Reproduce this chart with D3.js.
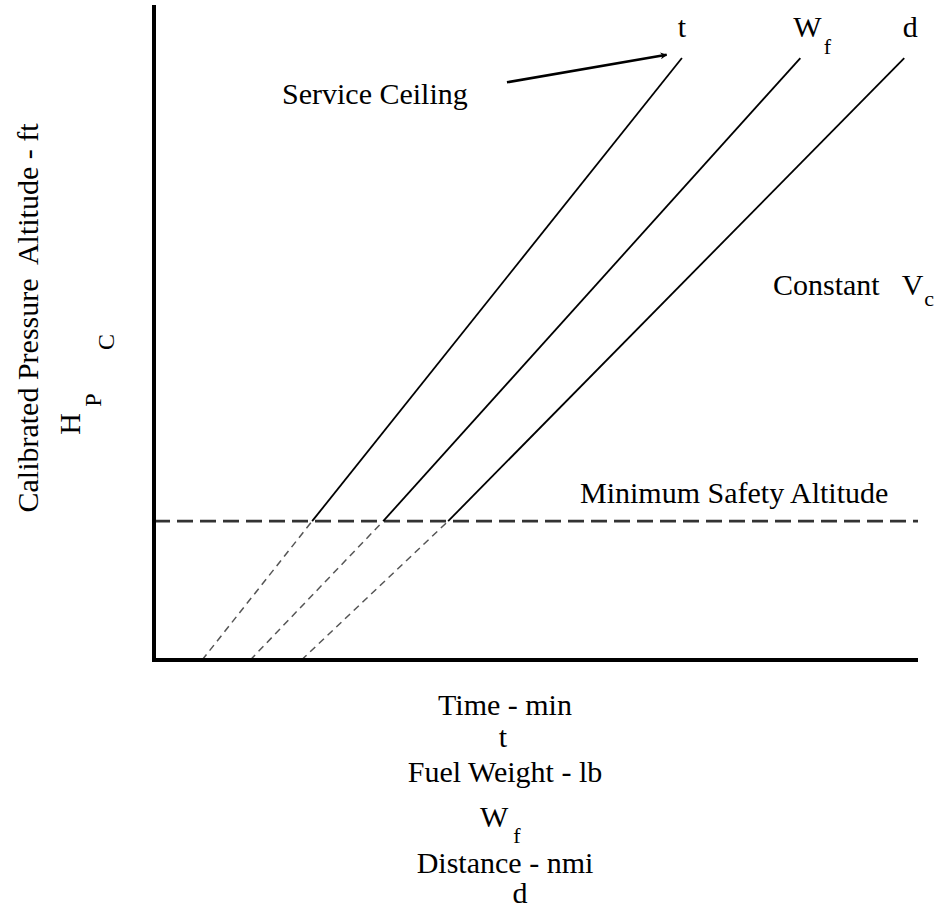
<!DOCTYPE html>
<html>
<head>
<meta charset="utf-8">
<script src="https://cdn.jsdelivr.net/npm/d3@7"></script>
<style>
  html, body { margin: 0; padding: 0; background: #fff; }
  svg { display: block; }
</style>
</head>
<body>
<svg id="chart" width="952" height="911" font-family="'Liberation Serif', 'Times New Roman', serif"></svg>
<script>
// ---- data (abstract chart units, 0..100 on both axes) ----
const seriesNames = ["t", "Wf", "d"];
const bottomX = [6.3, 12.6, 19.3];      // where the extrapolated (dashed) part meets the x-axis
const safetyX = [20.7, 30.0, 38.5];     // crossing of the minimum safety altitude
const ceilingX = [69.1, 84.6, 98.2];    // at service ceiling
const minSafetyAltitude = 21.2;
const serviceCeiling = 91.9;
const arrowFrom = [46.2, 88.2];
const arrowTo = [67.1, 92.4];

const svg = d3.select("#chart");
const x = d3.scaleLinear().domain([0, 100]).range([154, 918]);
const y = d3.scaleLinear().domain([0, 100]).range([660, 5]);
const line = d3.line().x(d => x(d[0])).y(d => y(d[1]));

svg.append("defs").append("marker")
  .attr("id", "ah").attr("viewBox", "0 0 10 10")
  .attr("refX", 9).attr("refY", 5)
  .attr("markerWidth", 7).attr("markerHeight", 7)
  .attr("markerUnits", "userSpaceOnUse")
  .attr("orient", "auto")
  .append("path").attr("d", "M0,0 L10,5 L0,10 L3,5 Z").attr("fill", "#000");

// minimum safety altitude dashed line
svg.append("path")
  .attr("d", line([[0, minSafetyAltitude], [100, minSafetyAltitude]]))
  .attr("stroke", "#333").attr("stroke-width", 2.6)
  .attr("stroke-dasharray", "16,7").attr("fill", "none");

// dashed extrapolations + solid lines
seriesNames.forEach((s, i) => {
  svg.append("path")
    .attr("d", line([[bottomX[i], 0], [safetyX[i], minSafetyAltitude]]))
    .attr("stroke", "#555").attr("stroke-width", 1.5)
    .attr("stroke-dasharray", "7,5").attr("fill", "none");
  svg.append("path")
    .attr("d", line([[safetyX[i], minSafetyAltitude], [ceilingX[i], serviceCeiling]]))
    .attr("stroke", "#000").attr("stroke-width", 1.8).attr("fill", "none");
});

// axes
svg.append("line")
  .attr("x1", x(0)).attr("x2", x(0))
  .attr("y1", y(0) + 2).attr("y2", y(100))
  .attr("stroke", "#000").attr("stroke-width", 4);
svg.append("line")
  .attr("x1", x(0) - 2).attr("x2", x(100))
  .attr("y1", y(0)).attr("y2", y(0))
  .attr("stroke", "#000").attr("stroke-width", 4);

// arrow
svg.append("path")
  .attr("d", line([arrowFrom, arrowTo]))
  .attr("stroke", "#000").attr("stroke-width", 2.5).attr("fill", "none")
  .attr("marker-end", "url(#ah)");

const F = 30, FS = 22;
// top labels
svg.append("text").attr("x", x(ceilingX[0])).attr("y", 37).attr("text-anchor", "middle").attr("font-size", F).text("t");
const wt = svg.append("text").attr("x", x(ceilingX[1]) - 7).attr("y", 37).attr("font-size", F);
wt.append("tspan").text("W");
wt.append("tspan").attr("font-size", FS).attr("dy", 17).attr("dx", 2).text("f");
svg.append("text").attr("x", x(ceilingX[2]) + 6).attr("y", 37).attr("text-anchor", "middle").attr("font-size", F).text("d");

svg.append("text").attr("x", 282).attr("y", 104).attr("font-size", F).text("Service Ceiling");
svg.append("text").attr("x", 580).attr("y", 503).attr("font-size", F).text("Minimum Safety Altitude");

const ct = svg.append("text").attr("x", 773).attr("y", 295).attr("font-size", F).style("white-space", "pre");
ct.append("tspan").text("Constant   V");
ct.append("tspan").attr("font-size", FS).attr("dy", 11).attr("dx", 1).text("c");

// y-axis title
svg.append("text").attr("transform", "translate(38,318) rotate(-90)")
  .attr("text-anchor", "middle").attr("font-size", F).style("white-space", "pre")
  .text("Calibrated Pressure  Altitude - ft");
svg.append("text").attr("transform", "translate(80,424) rotate(-90)")
  .attr("text-anchor", "middle").attr("font-size", F).text("H");
svg.append("text").attr("transform", "translate(101,400) rotate(-90)")
  .attr("text-anchor", "middle").attr("font-size", 24).text("P");
svg.append("text").attr("transform", "translate(114,342) rotate(-90)")
  .attr("text-anchor", "middle").attr("font-size", 24).text("C");

// x-axis title stack
const cx = 505;
svg.append("text").attr("x", cx).attr("y", 715).attr("text-anchor", "middle").attr("font-size", F).text("Time - min");
svg.append("text").attr("x", cx - 2).attr("y", 747).attr("text-anchor", "middle").attr("font-size", F).text("t");
svg.append("text").attr("x", cx).attr("y", 782).attr("text-anchor", "middle").attr("font-size", F).text("Fuel Weight - lb");
const wb = svg.append("text").attr("x", 480).attr("y", 827).attr("font-size", F);
wb.append("tspan").text("W");
wb.append("tspan").attr("font-size", FS).attr("dy", 16).attr("dx", 5).text("f");
svg.append("text").attr("x", cx).attr("y", 873).attr("text-anchor", "middle").attr("font-size", F).text("Distance - nmi");
svg.append("text").attr("x", 520).attr("y", 903).attr("text-anchor", "middle").attr("font-size", F).text("d");
</script>
</body>
</html>
